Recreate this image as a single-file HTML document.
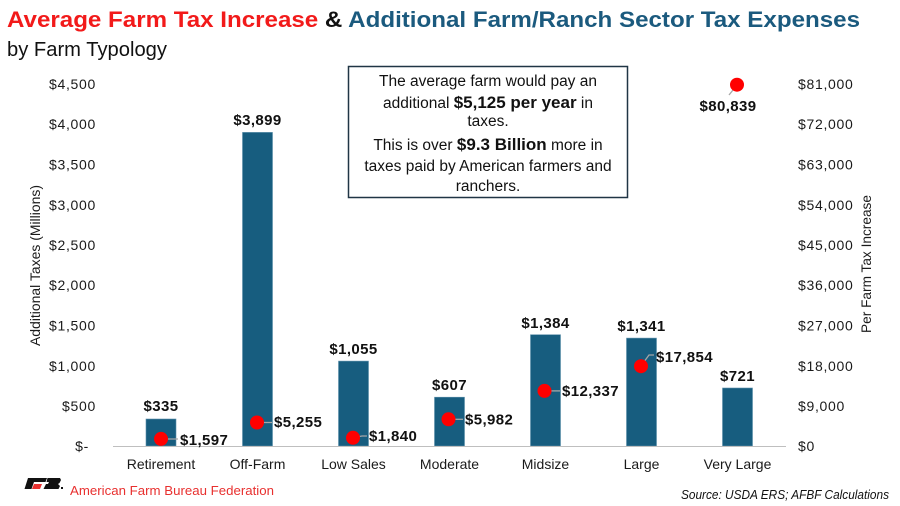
<!DOCTYPE html>
<html><head><meta charset="utf-8">
<style>
html,body{margin:0;padding:0;background:#fff;}
svg{display:block;}
text{font-family:"Liberation Sans",Arial,sans-serif;}
</style></head>
<body>
<svg width="900" height="506" viewBox="0 0 900 506" xmlns="http://www.w3.org/2000/svg">
<rect width="900" height="506" fill="#fff"/>
<!-- Title -->
<text x="7" y="27" font-size="22" font-weight="bold" textLength="853" lengthAdjust="spacingAndGlyphs"><tspan fill="#f21a1a">Average Farm Tax Increase</tspan><tspan fill="#111"> &amp; </tspan><tspan fill="#1b5a7e">Additional Farm/Ranch Sector Tax Expenses</tspan></text>
<text x="7" y="56" font-size="20" fill="#111" textLength="160" lengthAdjust="spacingAndGlyphs">by Farm Typology</text>

<!-- Left axis ticks -->
<g font-size="14" fill="#1a1a1a" text-anchor="end" letter-spacing="0.7">
<text x="96" y="89">$4,500</text>
<text x="96" y="129">$4,000</text>
<text x="96" y="169.5">$3,500</text>
<text x="96" y="210">$3,000</text>
<text x="96" y="250">$2,500</text>
<text x="96" y="290">$2,000</text>
<text x="96" y="330.5">$1,500</text>
<text x="96" y="371">$1,000</text>
<text x="96" y="411">$500</text>
<text x="89" y="451">$-</text>
</g>
<!-- Right axis ticks -->
<g font-size="14" fill="#1a1a1a" letter-spacing="0.7">
<text x="798" y="89">$81,000</text>
<text x="798" y="129">$72,000</text>
<text x="798" y="169.5">$63,000</text>
<text x="798" y="210">$54,000</text>
<text x="798" y="250">$45,000</text>
<text x="798" y="290">$36,000</text>
<text x="798" y="330.5">$27,000</text>
<text x="798" y="371">$18,000</text>
<text x="798" y="411">$9,000</text>
<text x="798" y="451">$0</text>
</g>
<!-- Axis titles -->
<text transform="translate(40,265.5) rotate(-90)" font-size="13.5" fill="#1a1a1a" text-anchor="middle" textLength="161" lengthAdjust="spacingAndGlyphs">Additional Taxes (Millions)</text>
<text transform="translate(871,264) rotate(-90)" font-size="13.5" fill="#1a1a1a" text-anchor="middle" textLength="138" lengthAdjust="spacingAndGlyphs">Per Farm Tax Increase</text>

<!-- Bars -->
<g fill="#175d7f" stroke="#5d8fab" stroke-width="0.6">
<rect x="146" y="419" width="30" height="27"/>
<rect x="242.5" y="132.4" width="30" height="313.6"/>
<rect x="338.5" y="361.1" width="30" height="84.9"/>
<rect x="434.5" y="397.2" width="30" height="48.8"/>
<rect x="530.5" y="334.7" width="30" height="111.3"/>
<rect x="626.5" y="338.1" width="30" height="107.9"/>
<rect x="722.5" y="388" width="30" height="58"/>
</g>
<!-- axis line -->
<line x1="113" y1="446.5" x2="786" y2="446.5" stroke="#bfbfbf" stroke-width="1"/>

<!-- Bar labels -->
<g font-size="15" font-weight="bold" fill="#111" text-anchor="middle" letter-spacing="0.4">
<text x="161" y="411">$335</text>
<text x="257.5" y="125">$3,899</text>
<text x="353.5" y="354">$1,055</text>
<text x="449.5" y="390">$607</text>
<text x="545.5" y="328">$1,384</text>
<text x="641.5" y="331">$1,341</text>
<text x="737.5" y="381">$721</text>
</g>

<!-- Leader lines -->
<g stroke="#a6a6a6" stroke-width="1.3" fill="none">
<line x1="161" y1="439" x2="178" y2="439"/>
<line x1="257" y1="422.5" x2="272" y2="422.5"/>
<polyline points="353,437.8 362,436 367,436"/>
<line x1="448" y1="419.3" x2="463" y2="419.3"/>
<line x1="544" y1="390.9" x2="560" y2="390.9"/>
<polyline points="641,366 649,355 654,355"/>
<line x1="737" y1="85" x2="729" y2="95"/>
</g>
<!-- Dots -->
<g fill="#ff0000">
<circle cx="161" cy="438.9" r="7"/>
<circle cx="257" cy="422.5" r="7"/>
<circle cx="353" cy="437.8" r="7"/>
<circle cx="448.5" cy="419.3" r="7"/>
<circle cx="544.5" cy="390.9" r="7"/>
<circle cx="641" cy="366.2" r="7"/>
<circle cx="737" cy="84.7" r="7"/>
</g>
<!-- Dot labels -->
<g font-size="15" font-weight="bold" fill="#111" letter-spacing="0.4">
<text x="180" y="445">$1,597</text>
<text x="274" y="427">$5,255</text>
<text x="369" y="441">$1,840</text>
<text x="465" y="424.5">$5,982</text>
<text x="562" y="396">$12,337</text>
<text x="656" y="362">$17,854</text>
<text x="728" y="111" text-anchor="middle">$80,839</text>
</g>

<!-- Category labels -->
<g font-size="14" fill="#1a1a1a" text-anchor="middle">
<text x="161" y="469">Retirement</text>
<text x="257.5" y="469">Off-Farm</text>
<text x="353.5" y="469">Low Sales</text>
<text x="449.5" y="469">Moderate</text>
<text x="545.5" y="469">Midsize</text>
<text x="641.5" y="469">Large</text>
<text x="737.5" y="469">Very Large</text>
</g>

<!-- Annotation box -->
<rect x="348.5" y="66.5" width="279" height="131" fill="#fff" stroke="#203545" stroke-width="1.5"/>
<g font-size="15.5" fill="#111" text-anchor="middle">
<text x="488" y="86">The average farm would pay an</text>
<text x="488" y="108">additional <tspan font-weight="bold" font-size="17">$5,125 per year</tspan> in</text>
<text x="488" y="126">taxes.</text>
<text x="488" y="150">This is over <tspan font-weight="bold" font-size="17">$9.3 Billion</tspan> more in</text>
<text x="488" y="171">taxes paid by American farmers and</text>
<text x="488" y="191">ranchers.</text>
</g>

<!-- Logo -->
<polygon points="28,478 47,478 45.5,482 34,482 31.5,489 24.5,489" fill="#111"/>
<polygon points="34,484 42,484 40,489 32,489" fill="#e8302f"/>
<polygon points="47.5,478 60,478 61,480 59.5,483 58,484 60,486 58.5,489 43.5,489 46,484 48,484 49,482 46.5,482" fill="#111"/>
<rect x="61" y="487" width="2" height="2" fill="#111"/>
<text x="70" y="495" font-size="13" fill="#e8302f" textLength="204" lengthAdjust="spacingAndGlyphs">American Farm Bureau Federation</text>

<!-- Source -->
<text x="681" y="499" font-size="13" font-style="italic" fill="#111" textLength="208" lengthAdjust="spacingAndGlyphs">Source: USDA ERS; AFBF Calculations</text>
</svg>
</body></html>
